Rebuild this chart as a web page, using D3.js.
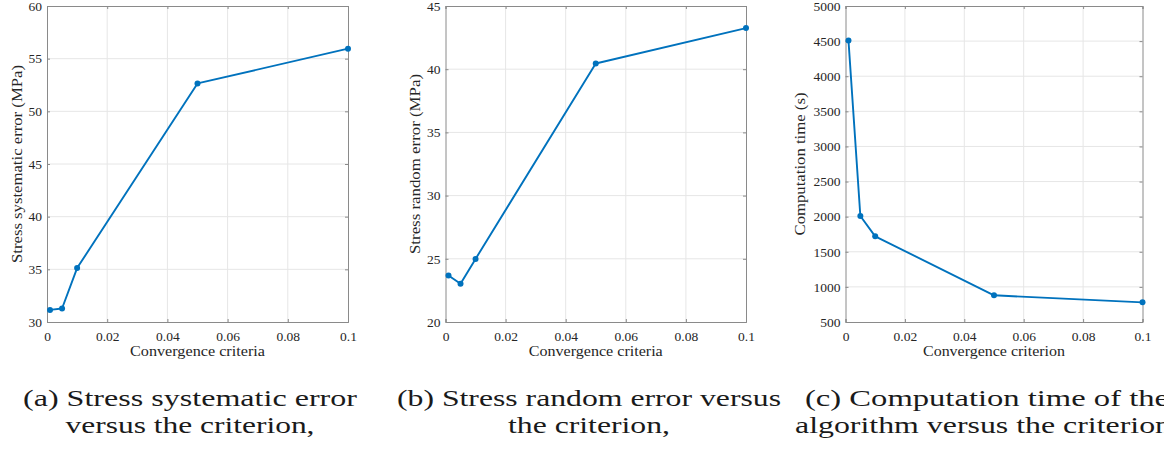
<!DOCTYPE html>
<html>
<head>
<meta charset="utf-8">
<script src="https://cdn.jsdelivr.net/npm/d3@7/dist/d3.min.js"></script>
<style>
  html, body { margin: 0; padding: 0; background: #fff; overflow: hidden; }
  svg { display: block; }
  text { font-family: "Liberation Serif", "DejaVu Serif", serif; }
</style>
</head>
<body>
<svg id="fig" width="1164" height="455"></svg>
<script>
// Convergence criterion values shared by all three panels
const criteria = [0.001, 0.005, 0.01, 0.05, 0.1];

// Panel (a): stress systematic error (MPa)
const systematicError = [31.15, 31.28, 35.12, 52.65, 55.95];
// Panel (b): stress random error (MPa)
const randomError = [23.68, 23.02, 24.99, 40.45, 43.25];
// Panel (c): computation time (s)
const computationTime = [4510, 2010, 1720, 880, 780];

// Tick labels
const xTicks = [0, 0.02, 0.04, 0.06, 0.08, 0.1];
const xTickLabels = ["0", "0.02", "0.04", "0.06", "0.08", "0.1"];
const yTicksA = [30, 35, 40, 45, 50, 55, 60];
const yTicksB = [20, 25, 30, 35, 40, 45];
const yTicksC = [500, 1000, 1500, 2000, 2500, 3000, 3500, 4000, 4500, 5000];

// Axis titles and captions
const yTitles = ["Stress systematic error (MPa)", "Stress random error (MPa)", "Computation time (s)"];
const xTitles = ["Convergence criteria", "Convergence criteria", "Convergence criterion"];
const captions = [
  ["(a) Stress systematic error", "versus the criterion,"],
  ["(b) Stress random error versus", "the criterion,"],
  ["(c) Computation time of the", "algorithm versus the criterion,"]
];

const svg = d3.select("#fig");
const lineColor = "#0072bd";
const boxColor = "#8a8a8a";
const gridColor = "#e6e6e6";
const textColor = "#262626";
const serif = '"Liberation Serif", "DejaVu Serif", serif';

const panels = [
  { values: systematicError, yDomain: [30, 60], yTicks: yTicksA,
    left: 47, right: 348, yTitleX: 17, yTitleLen: 198, xTitleLen: 135,
    capCenter: 190, capLens: [334, 249] },
  { values: randomError, yDomain: [20, 45], yTicks: yTicksB,
    left: 445.5, right: 746, yTitleX: 415, yTitleLen: 180, xTitleLen: 134,
    capCenter: 589, capLens: [384, 162] },
  { values: computationTime, yDomain: [500, 5000], yTicks: yTicksC,
    left: 845.5, right: 1142.5, yTitleX: 800, yTitleLen: 143, xTitleLen: 142,
    capCenter: 987, capLens: [364, 384] }
];
const plotTop = 6, plotBottom = 322;

panels.forEach((p, i) => {
  const x = d3.scaleLinear().domain([0, 0.1]).range([p.left, p.right]);
  const y = d3.scaleLinear().domain(p.yDomain).range([plotBottom, plotTop]);
  const g = svg.append("g");

  // grid
  g.append("g").selectAll("line").data(xTicks.slice(1, -1)).join("line")
    .attr("x1", d => x(d)).attr("x2", d => x(d))
    .attr("y1", plotTop).attr("y2", plotBottom)
    .attr("stroke", gridColor).attr("stroke-width", 1);
  g.append("g").selectAll("line").data(p.yTicks.slice(1, -1)).join("line")
    .attr("y1", d => y(d)).attr("y2", d => y(d))
    .attr("x1", p.left).attr("x2", p.right)
    .attr("stroke", gridColor).attr("stroke-width", 1);

  // axes with inward ticks on all four sides
  const xAxis = d3.axisBottom(x).tickValues(xTicks)
    .tickFormat((d, k) => xTickLabels[k]).tickSize(-3).tickPadding(9);
  const yAxis = d3.axisLeft(y).tickValues(p.yTicks).tickFormat(d3.format("d"))
    .tickSize(-3).tickPadding(5);
  const xTop = d3.axisTop(x).tickValues(xTicks).tickFormat("").tickSize(-3);
  const yRight = d3.axisRight(y).tickValues(p.yTicks).tickFormat("").tickSize(-3);

  const styleAxis = sel => {
    sel.attr("font-family", serif);
    sel.selectAll("path").attr("stroke", boxColor).attr("stroke-width", 1);
    sel.selectAll("line").attr("stroke", boxColor);
    sel.selectAll("text").attr("fill", textColor)
      .style("font-family", serif).style("font-size", "13.5px");
  };
  g.append("g").attr("transform", `translate(0,${plotBottom})`).call(xAxis).call(styleAxis);
  g.append("g").attr("transform", `translate(${p.left},0)`).call(yAxis).call(styleAxis);
  g.append("g").attr("transform", `translate(0,${plotTop})`).call(xTop).call(styleAxis);
  g.append("g").attr("transform", `translate(${p.right},0)`).call(yRight).call(styleAxis);

  // data line and markers
  const pts = criteria.map((c, k) => [c, p.values[k]]);
  g.append("path").datum(pts)
    .attr("fill", "none").attr("stroke", lineColor).attr("stroke-width", 1.9)
    .attr("stroke-linejoin", "round")
    .attr("d", d3.line().x(d => x(d[0])).y(d => y(d[1])));
  g.append("g").selectAll("circle").data(pts).join("circle")
    .attr("cx", d => x(d[0])).attr("cy", d => y(d[1])).attr("r", 3)
    .attr("fill", lineColor);

  // axis titles
  g.append("text")
    .attr("x", (p.left + p.right) / 2).attr("y", 356)
    .attr("text-anchor", "middle").attr("fill", textColor)
    .style("font-size", "15px")
    .attr("textLength", p.xTitleLen).attr("lengthAdjust", "spacingAndGlyphs")
    .text(xTitles[i]);
  g.append("text")
    .attr("transform", `translate(${p.yTitleX + 5},${(plotTop + plotBottom) / 2}) rotate(-90)`)
    .attr("text-anchor", "middle").attr("fill", textColor)
    .style("font-size", "15px")
    .attr("textLength", p.yTitleLen).attr("lengthAdjust", "spacingAndGlyphs")
    .text(yTitles[i]);

  // sub-figure caption
  captions[i].forEach((line, k) => {
    svg.append("text")
      .attr("x", p.capCenter).attr("y", 406 + k * 27)
      .attr("text-anchor", "middle").attr("fill", "#1a1a1a")
      .style("font-size", "23px")
      .attr("textLength", p.capLens[k]).attr("lengthAdjust", "spacingAndGlyphs")
      .text(line);
  });
});
</script>
</body>
</html>
